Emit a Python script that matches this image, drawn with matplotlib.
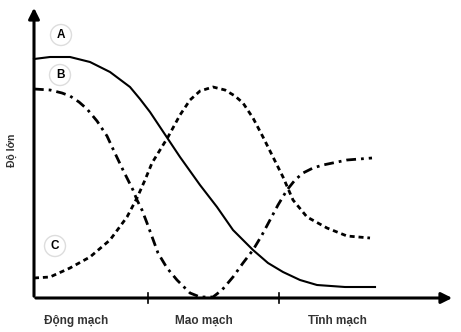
"""
Biểu đồ độ lớn (A, B, C) qua động mạch, mao mạch, tĩnh mạch
"""

import matplotlib
matplotlib.use('Agg')

import matplotlib.pyplot as plt
from matplotlib.patches import Circle

# giá trị (đơn vị tùy ý, gốc ở góc trục)
a_x = [0, 16, 36, 56, 76, 96, 106, 116, 126, 136, 146, 156, 166, 183, 199, 219, 234, 249, 266, 283, 311, 341]
a_y = [239, 241, 241, 236, 226, 211, 199, 186, 171, 156, 141, 127, 113, 91, 68, 48, 35, 26, 18, 13, 11, 11]

b_x = [0, 16, 28, 36, 45, 53, 63, 73, 79, 89, 99, 103, 108, 113, 124, 133, 143, 156, 166, 179,
       188, 199, 209, 219, 228, 236, 244, 253, 261, 269, 279, 289, 313, 338]
b_y = [209, 208, 205, 202, 196, 189, 177, 162, 149, 128, 108, 98, 88, 75, 45, 30, 18, 5, 1, 1,
       8, 21, 35, 48, 63, 78, 93, 108, 118, 125, 130, 133, 138, 140]

c_x = [0, 16, 36, 56, 76, 93, 103, 111, 118, 134, 146, 156, 166, 179, 191, 201, 209,
       219, 229, 239, 249, 259, 273, 293, 313, 336]
c_y = [20, 21, 30, 41, 58, 81, 100, 118, 135, 161, 183, 198, 207, 211, 208, 202, 195,
       180, 161, 141, 121, 98, 81, 70, 62, 60]

nhan = ["Động mạch", "Mao mạch", "Tĩnh mạch"]
vach = [114, 245]

fig = plt.figure(figsize=(4.61, 3.32), dpi=100)
ax = fig.add_axes([0, 0, 1, 1])
ax.set_xlim(-34, 427)
ax.set_ylim(-34, 298)
ax.axis('off')

# trục
ax.annotate('', xy=(421, 0), xytext=(-1, 0),
            arrowprops=dict(arrowstyle='-|>', lw=2.2, color='black', mutation_scale=16))
ax.annotate('', xy=(0, 293), xytext=(0, -1),
            arrowprops=dict(arrowstyle='-|>', lw=2.2, color='black', mutation_scale=16))
for v in vach:
    ax.plot([v, v], [-5, 5], color='black', lw=1.2)

# các đường
ax.plot(a_x, a_y, color='black', lw=1.5, solid_joinstyle='round')
ax.plot(b_x, b_y, color='black', lw=2, dashes=(3.5, 1.8, 1, 1.8))
ax.plot(c_x, c_y, color='black', lw=2, dashes=(1.8, 1.4))

# nhãn A, B, C
for lab, (cx, cy) in zip(["A", "B", "C"], [(27, 263), (26, 223), (21, 52)]):
    ax.add_patch(Circle((cx, cy), 10.5, facecolor='white', edgecolor='#dddddd', lw=1, zorder=3))
    ax.text(cx, cy, lab, ha='center', va='center', fontsize=8.5, fontweight='bold',
            family='Liberation Sans', zorder=4)

for t, xp in zip(nhan, [42, 170, 303]):
    ax.text(xp, -23, t, ha='center', va='center', fontsize=8.5, fontweight='bold',
            color='#333333', family='Liberation Sans')

ax.text(-22, 148, "Độ lớn", rotation=90, ha='center', va='center', fontsize=7.5,
        fontweight='bold', color='#333333', family='Liberation Sans')

plt.savefig("out.png", dpi=100)
plt.close()
